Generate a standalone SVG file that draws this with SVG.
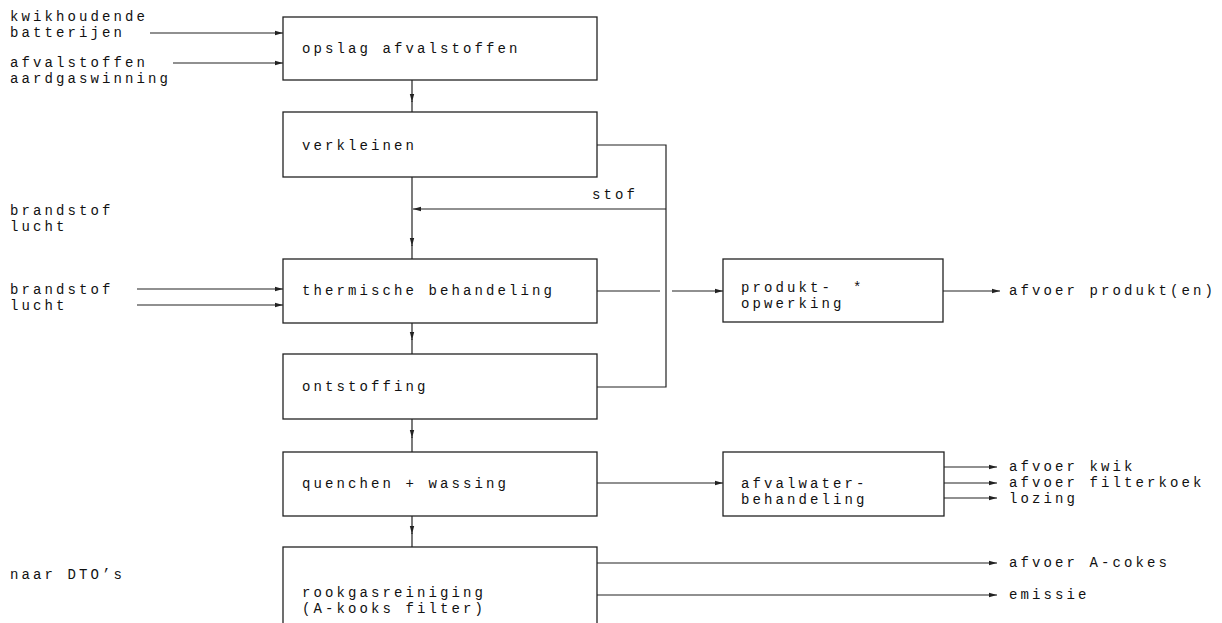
<svg xmlns="http://www.w3.org/2000/svg" width="1222" height="623" viewBox="0 0 1222 623">
<defs>
<marker id="ah" viewBox="0 0 8 6" refX="8" refY="3" markerWidth="8" markerHeight="6" markerUnits="userSpaceOnUse" orient="auto">
<path d="M0,0.8 L8,3 L0,5.2 Z" fill="#222"/>
</marker>
<style>
text{font-family:"Liberation Mono","Courier New",monospace;font-size:14px;letter-spacing:3.1px;fill:#111}
.box{fill:#fff;stroke:#222;stroke-width:1.3}
.ln{fill:none;stroke:#222;stroke-width:1.2}
.ar{fill:none;stroke:#222;stroke-width:1.2;marker-end:url(#ah)}
</style>
</defs>
<rect width="1222" height="623" fill="#fff"/>
<g id="labels">
<text x="10" y="21">kwikhoudende</text>
<text x="10" y="37">batterijen</text>
<text x="10" y="67">afvalstoffen</text>
<text x="10" y="83">aardgaswinning</text>
<text x="10" y="215">brandstof</text>
<text x="10" y="231">lucht</text>
<text x="10" y="294">brandstof</text>
<text x="10" y="310">lucht</text>
<text x="10" y="579">naar DTO’s</text>
<text x="592" y="199">stof</text>
<text x="1009" y="295">afvoer produkt(en)</text>
<text x="1009" y="471">afvoer kwik</text>
<text x="1009" y="487">afvoer filterkoek</text>
<text x="1009" y="503">lozing</text>
<text x="1009" y="567">afvoer A-cokes</text>
<text x="1009" y="599">emissie</text>
</g>
<g id="connectors">
<path class="ar" d="M150,33 H283"/>
<path class="ar" d="M173,63 H283"/>
<path class="ar" d="M137,289 H283"/>
<path class="ar" d="M137,305 H283"/>
<path class="ar" d="M412,80 V102"/><path class="ln" d="M412,101 V112"/>
<path class="ar" d="M412,177 V246"/><path class="ln" d="M412,245 V259"/>
<path class="ln" d="M597,145 H666 V387 H597"/>
<path class="ar" d="M666,209 H413"/>
<path class="ln" d="M597,291 H660"/>
<path class="ar" d="M672,291 H723"/>
<path class="ar" d="M943,291 H1000"/>
<path class="ar" d="M412,323 V340"/><path class="ln" d="M412,339 V354"/>
<path class="ar" d="M412,419 V438"/><path class="ln" d="M412,437 V452"/>
<path class="ar" d="M412,516 V534"/><path class="ln" d="M412,533 V547"/>
<path class="ar" d="M597,483 H723"/>
<path class="ar" d="M944,467 H997"/>
<path class="ar" d="M944,483 H997"/>
<path class="ar" d="M944,498 H997"/>
<path class="ar" d="M597,563 H997"/>
<path class="ar" d="M597,595 H997"/>
</g>
<g id="opslag"><rect class="box" x="283" y="17" width="314" height="63"/><text x="302" y="53">opslag afvalstoffen</text></g>
<g id="verkleinen"><rect class="box" x="283" y="112" width="314" height="65"/><text x="302" y="150">verkleinen</text></g>
<g id="thermische"><rect class="box" x="283" y="259" width="314" height="64"/><text x="302" y="295">thermische behandeling</text></g>
<g id="ontstoffing"><rect class="box" x="283" y="354" width="314" height="65"/><text x="302" y="391">ontstoffing</text></g>
<g id="quenchen"><rect class="box" x="283" y="452" width="314" height="64"/><text x="302" y="488">quenchen + wassing</text></g>
<g id="rookgas"><rect class="box" x="283" y="547" width="314" height="90"/><text x="302" y="597">rookgasreiniging</text><text x="302" y="613">(A-kooks filter)</text></g>
<g id="produkt"><rect class="box" x="723" y="259" width="220" height="63"/><text x="741" y="292">produkt-</text><text x="853" y="292">*</text><text x="741" y="308">opwerking</text></g>
<g id="afvalwater"><rect class="box" x="723" y="452" width="221" height="64"/><text x="741" y="488">afvalwater-</text><text x="741" y="504">behandeling</text></g>
</svg>
